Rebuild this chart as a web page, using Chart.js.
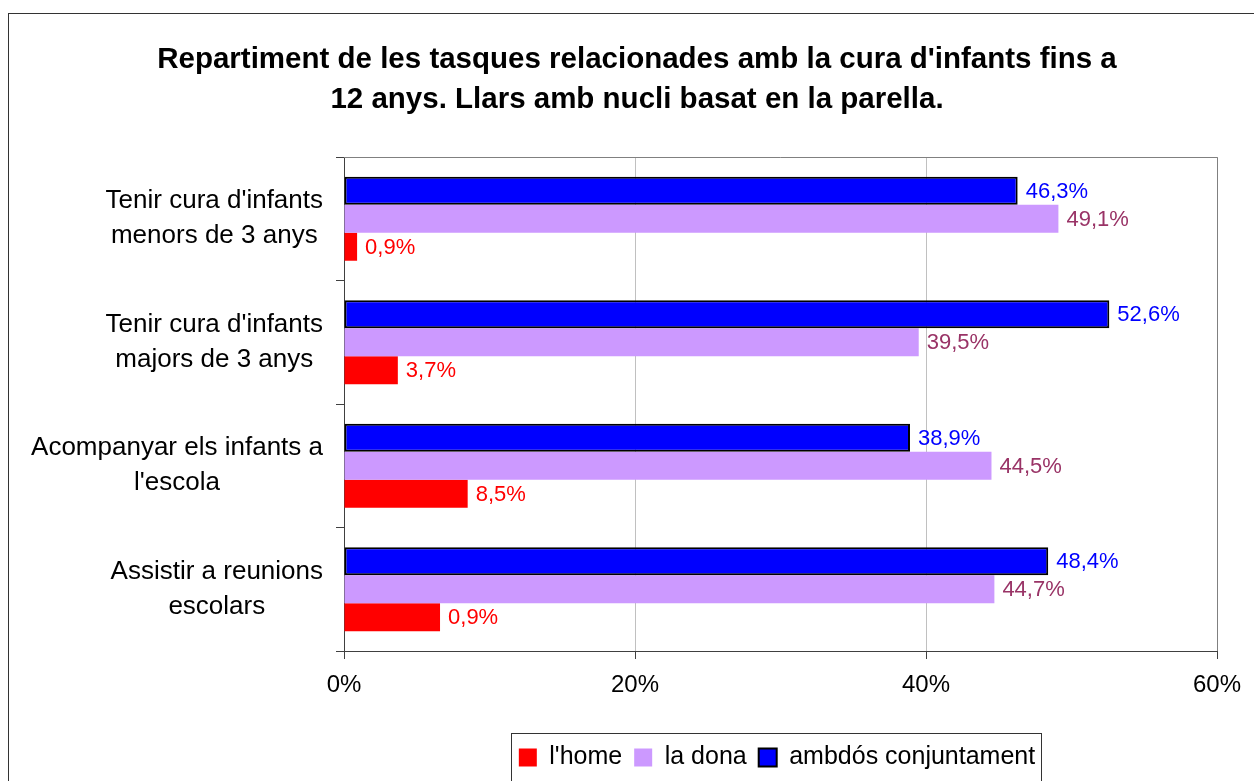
<!DOCTYPE html>
<html lang="ca">
<head>
<meta charset="utf-8">
<title>Repartiment de les tasques - cura d'infants</title>
<script src="https://cdn.jsdelivr.net/npm/chart.js"></script>
<style>
    html, body { margin: 0; padding: 0; background: #fff; }
</style>
</head>
<body>
<canvas id="chart" width="1254" height="781"></canvas>
<script>
    // categories (two lines each, as in the original)
    const categories = [
        ["Tenir cura d'infants", "menors de 3 anys"],
        ["Tenir cura d'infants", "majors de 3 anys"],
        ["Acompanyar els infants a", "l'escola"],
        ["Assistir a reunions", "escolars"]
    ];
    const seriesNames = ["ambdós conjuntament", "la dona", "l'home"];
    const ambdosValues = [46.3, 52.6, 38.9, 48.4];
    const donaValues = [49.1, 39.5, 44.5, 44.7];
    const homeValues = [0.9, 3.7, 8.5, 6.6];
    // the source chart prints 0,9% on the last red bar
    const homeLabels = ['0,9%', '3,7%', '8,5%', '0,9%'];
    const xTicks = [0, 20, 40, 60];

    const FONT = "'Liberation Sans', Arial, sans-serif";
    const fmt = v => v.toFixed(1).replace('.', ',') + '%';
    const valueLabels = [ambdosValues.map(fmt), donaValues.map(fmt), homeLabels];
    const labelColors = ['#0000ff', '#993366', '#ff0000'];

    Chart.defaults.font.family = FONT;

    const framePlugin = {
        id: 'frame',
        beforeDraw(chart) {
            const ctx = chart.ctx;
            ctx.save();
            ctx.fillStyle = '#fff';
            ctx.fillRect(0, 0, chart.width, chart.height);
            ctx.strokeStyle = '#333';
            ctx.lineWidth = 1;
            ctx.strokeRect(8.5, 13.5, chart.width + 20, chart.height + 20);
            ctx.restore();
        },
        afterLayout(chart) {
            // legend sits right of centre in the source
            chart.legend.left += 140;
            chart.legend.right += 140;
        },
        afterDatasetsDraw(chart) {
            const ctx = chart.ctx;
            ctx.save();
            ctx.font = '22px ' + FONT;
            ctx.textBaseline = 'middle';
            ctx.textAlign = 'left';
            chart.data.datasets.forEach((ds, i) => {
                const meta = chart.getDatasetMeta(i);
                ctx.fillStyle = labelColors[i];
                meta.data.forEach((bar, j) => {
                    ctx.fillText(valueLabels[i][j], bar.x + 8, bar.y + 1);
                });
            });
            ctx.restore();
        },
        afterDraw(chart) {
            const ctx = chart.ctx;
            const area = chart.chartArea;
            ctx.save();
            // grey plot border top/right
            ctx.strokeStyle = '#808080';
            ctx.lineWidth = 1;
            ctx.beginPath();
            ctx.moveTo(area.left, area.top + 0.5);
            ctx.lineTo(area.right + 0.5, area.top + 0.5);
            ctx.lineTo(area.right + 0.5, area.bottom);
            ctx.stroke();

            // category labels, each block centred on its widest line
            const yScale = chart.scales.y;
            ctx.font = '26px ' + FONT;
            ctx.fillStyle = '#000';
            ctx.textAlign = 'center';
            ctx.textBaseline = 'middle';
            categories.forEach((lines, i) => {
                const yc = yScale.getPixelForTick(i);
                const widest = Math.max(...lines.map(l => ctx.measureText(l).width));
                const cx = area.left - 21 - widest / 2;
                lines.forEach((line, k) => {
                    ctx.fillText(line, cx, yc + (k - (lines.length - 1) / 2) * 35);
                });
            });

            // legend border
            const hb = chart.legend.legendHitBoxes;
            if (hb && hb.length) {
                const first = hb[0], last = hb[hb.length - 1];
                ctx.strokeStyle = '#333';
                const x0 = Math.round(first.left - 8) + 0.5;
                const x1 = Math.round(last.left + last.width + 6) + 0.5;
                const y0 = Math.round(chart.legend.top) + 0.5;
                ctx.strokeRect(x0, y0, x1 - x0, 70);
            }
            ctx.restore();
        }
    };

    new Chart(document.getElementById('chart'), {
        type: 'bar',
        data: {
            labels: categories.map(c => c.join(' ')),
            datasets: [
                { label: seriesNames[0], data: ambdosValues, backgroundColor: '#0000ff', borderColor: '#000', borderWidth: 2, borderSkipped: false },
                { label: seriesNames[1], data: donaValues, backgroundColor: '#cc99ff', borderWidth: 0 },
                { label: seriesNames[2], data: homeValues, backgroundColor: '#ff0000', borderWidth: 0 }
            ]
        },
        options: {
            indexAxis: 'y',
            responsive: false,
            animation: false,
            datasets: { bar: { barPercentage: 1, categoryPercentage: 0.68 } },
            layout: { padding: { left: 20, right: 0, top: 0, bottom: 1 } },
            plugins: {
                title: {
                    display: true,
                    text: ["Repartiment de les tasques relacionades amb la cura d'infants fins a",
                           '12 anys. Llars amb nucli basat en la parella.'],
                    color: '#000',
                    font: { size: 29.5, weight: 'bold', lineHeight: 1.356 },
                    padding: { top: 40, bottom: 37 }
                },
                legend: {
                    position: 'bottom',
                    reverse: true,
                    labels: { color: '#000', font: { size: 25 }, boxWidth: 18, boxHeight: 18, padding: 12 }
                },
                tooltip: { enabled: false }
            },
            scales: {
                x: {
                    min: 0,
                    max: 60,
                    afterBuildTicks: s => { s.ticks = xTicks.map(v => ({ value: v })); },
                    ticks: { color: '#000', font: { size: 24 }, padding: 12, callback: v => v + '%' },
                    grid: { color: '#c0c0c0', tickColor: '#404040', tickLength: 8 },
                    border: { color: '#404040' },
                    afterFit: s => { s.height = 82; s.paddingRight = 37; }
                },
                y: {
                    ticks: { display: false },
                    grid: { drawOnChartArea: false, tickColor: '#404040', tickLength: 8, offset: true },
                    border: { color: '#404040' },
                    afterFit: s => { s.width = 324; }
                }
            }
        },
        plugins: [framePlugin]
    });
</script>
</body>
</html>
